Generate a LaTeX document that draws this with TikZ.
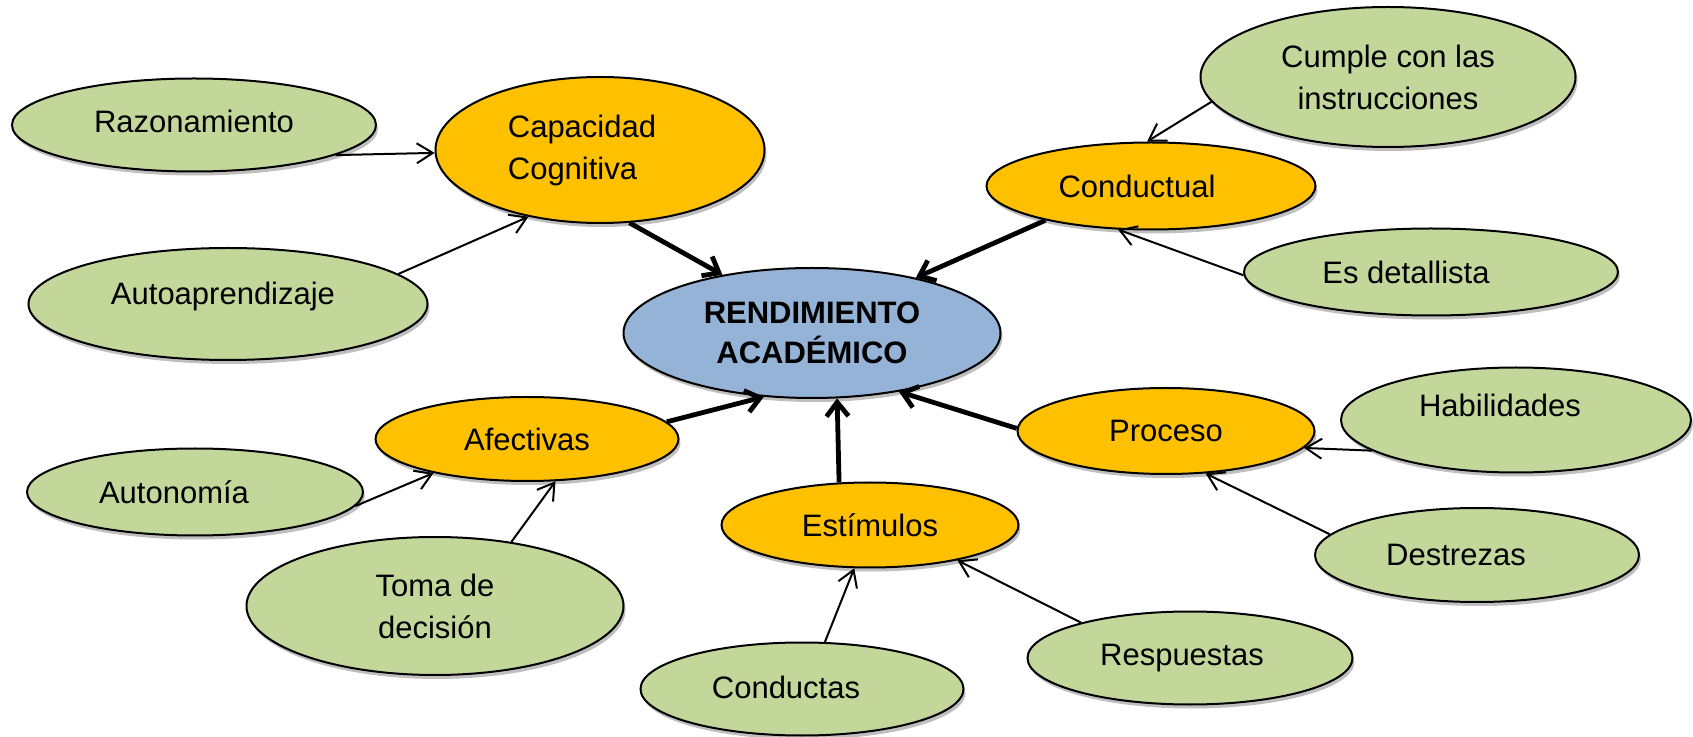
\documentclass[tikz,border=0pt]{standalone}
\usepackage{fontspec}
\setmainfont{Liberation Sans}
\usetikzlibrary{shapes.geometric,arrows.meta,shadows}

\definecolor{leafgreen}{RGB}{196,215,155}
\definecolor{branchgold}{RGB}{255,192,0}
\definecolor{rootblue}{RGB}{149,179,215}

% move a label inside its bubble: x shift, y shift, text
\newcommand{\shove}[3]{\hspace*{#1}\raisebox{#2}[\height][\depth]{#3}\hspace*{-#1}}

\begin{document}
\begin{tikzpicture}[x=0.5pt, y=-0.5pt,
		 bubble/.style={ellipse, draw=black, line width=1pt, inner sep=0pt,
		   align=center, font=\fontsize{15.5}{21}\selectfont,
		   drop shadow={shadow xshift=1pt, shadow yshift=-2pt, opacity=0.25, fill=black}},
		 leaf/.style={bubble, fill=leafgreen},
		 branch/.style={bubble, fill=branchgold},
		 root/.style={bubble, fill=rootblue, font=\fontsize{15.5}{20}\selectfont\bfseries},
		 feed/.style={-{Straight Barb[length=8pt,width=10pt]}, line width=1pt},
		 main/.style={-{Straight Barb[length=7pt,width=11pt]}, line width=2.4pt}]
    % \draw[help lines] (0,0) grid (1693,737);
		\useasboundingbox (0,0) rectangle (1693,737);
		\node[root, minimum width=188.5pt, minimum height=65pt] (rend) at (812,333)
		    {RENDIMIENTO\\ACADÉMICO};
		\node[branch, minimum width=164.5pt, minimum height=73pt] (capa) at (600,150)
		    {\shove{-9pt}{0pt}{\begin{tabular}{@{}l@{}}Capacidad\\Cognitiva\end{tabular}}};
		\node[branch, minimum width=164.5pt, minimum height=43.5pt] (cond) at (1151,186) {\shove{-7pt}{0pt}{Conductual}};
		\node[branch, minimum width=151.5pt, minimum height=42pt] (afec) at (527,439) {Afectivas};
		\node[branch, minimum width=148.5pt, minimum height=42.5pt] (esti) at (870,525) {Estímulos};
		\node[branch, minimum width=148.5pt, minimum height=43pt] (proc) at (1166,431) {Proceso};
		\node[leaf, minimum width=182pt, minimum height=46.5pt] (razo) at (194,125) {\shove{0pt}{2pt}{Razonamiento}};
		\node[leaf, minimum width=199.5pt, minimum height=56pt] (autoap) at (228,304) {\shove{-2.5pt}{4pt}{Autoaprendizaje}};
		\node[leaf, minimum width=187.5pt, minimum height=70pt] (cumple) at (1388,77)
		    {Cumple con las\\instrucciones};
		\node[leaf, minimum width=187pt, minimum height=43.5pt] (detal) at (1431,272) {\shove{-12.5pt}{0pt}{Es detallista}};
		\node[leaf, minimum width=168pt, minimum height=43.5pt] (auton) at (195,492) {\shove{-10.5pt}{0pt}{Autonomía}};
		\node[leaf, minimum width=188.5pt, minimum height=69pt] (toma) at (435,606)
		    {Toma de\\decisión};
		\node[leaf, minimum width=161.5pt, minimum height=46.5pt] (condu) at (802,689) {\shove{-8pt}{1pt}{Conductas}};
		\node[leaf, minimum width=162.5pt, minimum height=46.5pt] (resp) at (1190,658) {\shove{-4pt}{0pt}{Respuestas}};
		\node[leaf, minimum width=175pt, minimum height=52.5pt] (habil) at (1516,420) {\shove{-8pt}{7.5pt}{Habilidades}};
		\node[leaf, minimum width=162pt, minimum height=47pt] (destr) at (1477,555) {\shove{-10.5pt}{0pt}{Destrezas}};
		\draw[feed]  (razo.-12) -- (capa.181);
		\draw[feed]  (autoap.10) -- (capa.223);
		\draw[feed]  (cumple.188) -- (cond.95);
		\draw[feed]  (detal.181) -- (cond.233);
		\draw[feed]  (auton.-5) -- (afec.200);
		\draw[feed]  (toma.40) -- (afec.-56);
		\draw[feed]  (condu.64) -- (esti.250);
		\draw[feed]  (resp.162) -- (esti.-22);
		\draw[feed]  (habil.192) -- (proc.-7);
		\draw[feed]  (destr.172) -- (proc.-47);
		\draw[main]  (capa.-68) -- (rend.147);
		\draw[main]  (cond.198) -- (rend.28);
		\draw[main]  (afec.7) -- (rend.233);
		\draw[main]  (esti.126) -- (rend.-69);
		\draw[main]  (proc.179) -- (rend.-34);
\end{tikzpicture}
\end{document}
